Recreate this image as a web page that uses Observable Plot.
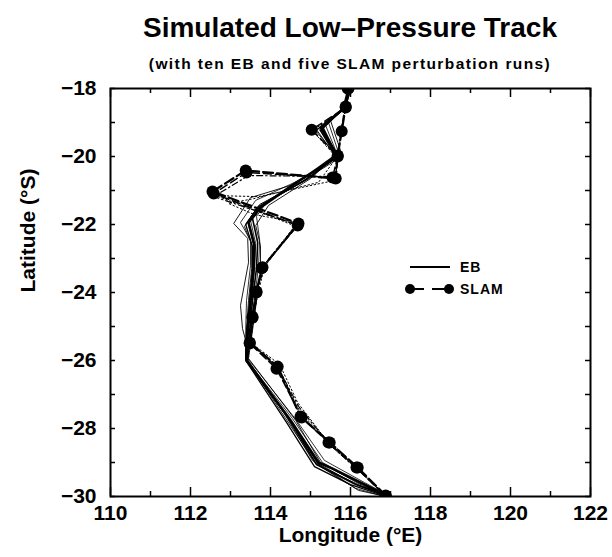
<!DOCTYPE html>
<html><head><meta charset="utf-8">
<script src="https://cdn.jsdelivr.net/npm/d3@7"></script>
<script src="https://cdn.jsdelivr.net/npm/@observablehq/plot@0.6"></script>
<style>
body{margin:0;background:#fff;font-family:"Liberation Sans",Arial,sans-serif;}
#wrap{position:relative;width:612px;height:557px;overflow:hidden;background:#fff;}
#head{position:absolute;left:0;top:0;}
#chart{position:absolute;left:0;top:80px;}
#legend{position:absolute;left:400px;top:255px;}
</style></head>
<body><div id="wrap">
<svg id="head" width="612" height="80" font-family="'Liberation Sans', Arial, sans-serif" font-weight="bold" text-anchor="middle">
  <text x="350" y="37" font-size="28">Simulated Low–Pressure Track</text>
  <text x="350" y="69" font-size="15.5" letter-spacing="1.4">(with ten EB and five SLAM perturbation runs)</text>
</svg>
<div id="chart"></div>
<svg id="legend" width="140" height="50"></svg>
</div>
<script>
// Tick values
const xMajor = [110, 112, 114, 116, 118, 120, 122];
const xMinor = [111, 113, 115, 117, 119, 121];
const yMajor = [-30, -28, -26, -24, -22, -20, -18];
const yMinor = [-29, -27, -25, -23, -21, -19];

// EB perturbation runs: [longitude °E, latitude °S]
const eb01 = [[116.00,-18.00],[115.83,-18.59],[115.25,-19.15],[115.68,-20.00],[114.65,-20.76],[113.75,-21.50],[113.45,-21.94],[113.60,-22.62],[113.58,-23.29],[113.50,-24.24],[113.43,-25.12],[113.40,-26.00],[114.50,-27.76],[115.20,-29.00],[115.55,-29.18],[116.95,-30.00]];
const eb02 = [[115.98,-18.00],[115.80,-18.65],[115.13,-19.24],[115.70,-20.06],[114.75,-20.76],[113.50,-21.21],[113.08,-21.97],[113.43,-22.41],[113.45,-23.12],[113.25,-24.38],[113.30,-25.06],[113.38,-25.41],[113.38,-25.94],[114.38,-27.71],[115.15,-29.06],[116.30,-29.71],[117.05,-30.00]];
const eb03 = [[115.95,-18.00],[115.85,-18.53],[115.50,-18.94],[115.75,-19.82],[115.00,-20.65],[113.95,-21.44],[113.63,-22.03],[113.75,-22.62],[113.75,-23.35],[113.65,-24.24],[113.55,-25.12],[113.45,-25.94],[114.63,-27.76],[115.25,-29.00],[116.30,-29.68],[116.95,-30.00]];
const eb04 = [[115.98,-18.00],[115.88,-18.56],[115.30,-19.12],[115.65,-19.94],[114.88,-20.59],[113.85,-21.38],[113.55,-21.82],[113.68,-22.53],[113.65,-23.29],[113.55,-24.24],[113.48,-25.12],[113.43,-26.00],[114.45,-27.71],[115.15,-29.06],[116.13,-29.65],[116.90,-29.97]];
const eb05 = [[115.95,-18.00],[115.85,-18.59],[115.20,-19.18],[115.73,-20.00],[114.70,-20.71],[113.63,-21.29],[113.25,-21.94],[113.50,-22.47],[113.50,-23.21],[113.40,-24.24],[113.38,-25.12],[113.38,-25.94],[114.33,-27.53],[115.05,-28.94],[116.13,-29.76],[116.85,-30.00]];
const eb06 = [[115.98,-18.00],[115.83,-18.56],[115.38,-19.09],[115.68,-19.97],[114.95,-20.65],[113.80,-21.41],[113.50,-21.88],[113.63,-22.56],[113.60,-23.29],[113.53,-24.24],[113.45,-25.12],[113.40,-25.97],[114.55,-27.71],[115.30,-29.00],[116.40,-29.71],[117.05,-30.06]];
const eb07 = [[116.00,-18.00],[115.88,-18.53],[115.25,-19.24],[115.65,-20.03],[114.80,-20.74],[113.70,-21.47],[113.38,-22.00],[113.55,-22.65],[113.55,-23.35],[113.48,-24.29],[113.40,-25.18],[113.38,-26.00],[114.40,-27.82],[115.10,-29.12],[116.00,-29.65],[116.90,-30.00]];
const eb08 = [[115.93,-18.00],[115.80,-18.62],[115.15,-19.21],[115.63,-20.00],[114.60,-20.82],[113.65,-21.53],[113.35,-22.06],[113.53,-22.59],[113.53,-23.29],[113.45,-24.24],[113.40,-25.12],[113.40,-26.03],[114.55,-27.88],[115.25,-29.12],[116.20,-29.82],[117.00,-30.03]];
const eb09 = [[115.98,-18.00],[115.85,-18.59],[115.45,-19.00],[115.70,-19.88],[115.05,-20.59],[113.90,-21.35],[113.65,-21.76],[113.73,-22.47],[113.70,-23.24],[113.60,-24.18],[113.50,-25.06],[113.43,-25.94],[114.65,-27.76],[115.35,-28.94],[116.35,-29.59],[117.00,-30.00]];
const eb10 = [[115.95,-18.00],[115.83,-18.56],[115.30,-19.18],[115.68,-19.97],[114.85,-20.71],[113.73,-21.41],[113.43,-21.91],[113.58,-22.59],[113.55,-23.29],[113.48,-24.24],[113.43,-25.12],[113.40,-25.97],[114.48,-27.74],[115.18,-29.03],[116.20,-29.68],[116.93,-30.00]];

// SLAM perturbation runs
const slam1 = [[115.95,-18.00],[115.88,-18.53],[115.78,-19.26],[115.68,-19.97],[115.63,-20.65],[113.38,-20.41],[112.55,-21.03],[114.70,-21.97],[113.78,-23.29],[113.65,-23.97],[113.55,-24.71],[113.48,-25.47],[114.18,-26.18],[114.75,-27.65],[115.48,-28.41],[116.18,-29.15],[116.88,-29.97]];
const slam2 = [[115.93,-18.00],[115.88,-18.56],[115.03,-19.21],[115.68,-20.00],[115.55,-20.62],[113.40,-20.47],[112.58,-21.09],[114.68,-22.03],[113.80,-23.26],[113.65,-24.00],[113.55,-24.74],[113.48,-25.50],[114.15,-26.24],[114.78,-27.68],[115.45,-28.41],[116.15,-29.15],[116.88,-30.00]];
const slam3 = [[115.98,-18.00],[115.88,-18.56],[115.05,-19.24],[115.65,-20.03],[115.20,-20.76],[113.58,-21.24],[112.95,-21.38],[113.60,-21.71],[114.68,-21.94],[113.88,-23.12],[113.70,-23.94],[113.58,-24.71],[113.50,-25.47],[114.23,-26.12],[114.68,-27.24],[115.50,-28.50],[116.20,-29.24],[116.90,-29.97]];
const slam4 = [[115.95,-18.00],[115.90,-18.50],[115.75,-19.24],[115.68,-19.94],[115.58,-20.71],[113.70,-21.18],[112.63,-21.15],[113.63,-21.59],[114.65,-22.06],[113.80,-23.24],[113.65,-23.97],[113.55,-24.71],[113.48,-25.47],[114.15,-26.24],[114.78,-27.59],[115.45,-28.35],[116.15,-29.12],[116.85,-29.94]];
const slam5 = [[115.93,-18.00],[115.85,-18.53],[115.78,-19.26],[115.68,-19.97],[115.63,-20.59],[113.45,-20.56],[112.58,-21.18],[114.65,-22.00],[113.83,-23.26],[113.68,-23.97],[113.58,-24.71],[113.50,-25.47],[114.20,-26.24],[114.70,-27.35],[115.48,-28.47],[116.18,-29.21],[116.88,-29.97]];

const ebRuns = [
  {pts: eb02, w: 0.9}, {pts: eb03, w: 0.9}, {pts: eb05, w: 0.8}, {pts: eb06, w: 0.8},
  {pts: eb08, w: 0.9}, {pts: eb09, w: 0.8}, {pts: eb10, w: 1.0}, {pts: eb07, w: 1.3},
  {pts: eb04, w: 1.6}, {pts: eb01, w: 2.6}
];
const slamRuns = [
  {pts: slam3, w: 1.0, dash: "1.5,2.5"}, {pts: slam4, w: 1.0, dash: "1.5,2.5"},
  {pts: slam5, w: 1.2, dash: "6,3,1.5,3"}, {pts: slam2, w: 1.5, dash: "8,4"},
  {pts: slam1, w: 2.2, dash: "10,4"}
];

const W = 612, H = 477, ML = 110, MR = 22, MT = 8, MB = 61;
const FW = W - ML - MR, FH = H - MT - MB;
const X = d => d[0], Y = d => d[1];
const font = {fontSize: 21, fontWeight: "bold"};
const marks = [];
for (const r of ebRuns) marks.push(Plot.line(r.pts, {x: X, y: Y, stroke: "black", strokeWidth: r.w, clip: true}));
for (const r of slamRuns) marks.push(Plot.line(r.pts, {x: X, y: Y, stroke: "black", strokeWidth: r.w, strokeDasharray: r.dash, clip: true}));
marks.push(Plot.dot(slam2, {x: X, y: Y, r: 6, fill: "black", clip: true}));
marks.push(Plot.dot(slam1, {x: X, y: Y, r: 6, fill: "black", clip: true}));
// tick labels
marks.push(Plot.axisX(xMajor, {anchor: "bottom", tickSize: 0, tickPadding: 9, label: null, ...font}));
marks.push(Plot.axisY(yMajor, {anchor: "left", tickSize: 0, tickPadding: 14, label: null, ...font}));
// inward ticks on all four sides
marks.push(Plot.tickX(xMajor, {x: d => d, insetTop: FH - 9, stroke: "black", strokeWidth: 1.5}));
marks.push(Plot.tickX(xMinor, {x: d => d, insetTop: FH - 5, stroke: "black", strokeWidth: 1.5}));
marks.push(Plot.tickX(xMajor, {x: d => d, insetBottom: FH - 9, stroke: "black", strokeWidth: 1.5}));
marks.push(Plot.tickX(xMinor, {x: d => d, insetBottom: FH - 5, stroke: "black", strokeWidth: 1.5}));
marks.push(Plot.tickY(yMajor.concat(yMinor), {y: d => d, insetRight: FW - 5, stroke: "black", strokeWidth: 1.5}));
marks.push(Plot.tickY(yMajor.concat(yMinor), {y: d => d, insetLeft: FW - 5, stroke: "black", strokeWidth: 1.5}));
marks.push(Plot.frame({stroke: "black", strokeWidth: 2}));
marks.push(Plot.text(["Longitude (°E)"], {text: d => d, frameAnchor: "bottom", dy: 45, fontSize: 21, fontWeight: "bold", letterSpacing: 1}));
marks.push(Plot.text(["Latitude (°S)"], {text: d => d, frameAnchor: "left", rotate: -90, dx: -82, fontSize: 21, fontWeight: "bold", letterSpacing: 1}));

const chart = Plot.plot({
  width: W, height: H,
  marginTop: MT, marginBottom: MB, marginLeft: ML, marginRight: MR,
  x: {domain: [110, 122]},
  y: {domain: [-30, -18]},
  style: {fontFamily: "'Liberation Sans', Arial, sans-serif", color: "black", background: "white", overflow: "visible"},
  marks
});
document.getElementById("chart").appendChild(chart);

// legend
const ff = "'Liberation Sans', Arial, sans-serif";
const lg = d3.select("#legend");
lg.append("line").attr("x1", 10).attr("x2", 50).attr("y1", 12).attr("y2", 12).attr("stroke", "black").attr("stroke-width", 2);
lg.append("text").attr("x", 60).attr("y", 17).text("EB").attr("font-weight", "bold").attr("font-size", 14).attr("letter-spacing", 1).attr("font-family", ff);
lg.append("line").attr("x1", 10).attr("x2", 48).attr("y1", 34).attr("y2", 34).attr("stroke", "black").attr("stroke-width", 2).attr("stroke-dasharray", "14,8,16");
lg.append("circle").attr("cx", 10).attr("cy", 34).attr("r", 5).attr("fill", "black");
lg.append("circle").attr("cx", 49).attr("cy", 34).attr("r", 5).attr("fill", "black");
lg.append("text").attr("x", 60).attr("y", 39).text("SLAM").attr("font-weight", "bold").attr("font-size", 14).attr("letter-spacing", 1).attr("font-family", ff);
</script>
</body></html>
